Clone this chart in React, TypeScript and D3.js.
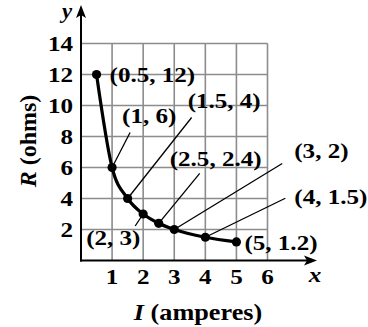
import React from "react";
import * as d3 from "d3";

const currents = [0.5, 1, 1.5, 2, 2.5, 3, 4, 5];
const resistances = [12, 6, 4, 3, 2.4, 2, 1.5, 1.2];
const pointLabels = ["(0.5, 12)", "(1, 6)", "(1.5, 4)", "(2, 3)", "(2.5, 2.4)", "(3, 2)", "(4, 1.5)", "(5, 1.2)"];
const xTicks = [1, 2, 3, 4, 5, 6];
const yTicks = [2, 4, 6, 8, 10, 12, 14];

// label placement (offsets relative to point, in px) and leader line end offsets
const labelPos: { dx: number; dy: number; lx?: number; ly?: number }[] = [
  { dx: 13, dy: 7 },
  { dx: 10, dy: -45, lx: 18, ly: -35 },
  { dx: 60, dy: -91, lx: 64, ly: -81 },
  { dx: -57, dy: 31, lx: -8, ly: 12 },
  { dx: 11, dy: -57, lx: 41, ly: -50 },
  { dx: 120, dy: -72, lx: 108, ly: -66 },
  { dx: 89, dy: -33, lx: 80, ly: -39 },
  { dx: 8, dy: 8 },
];

const W = 368;
const H = 327;
const FONT = "'Liberation Serif', 'Times New Roman', serif";
const SX = 1.14;

function T({ x, y, size, anchor = "start", italic = false, children }: any) {
  return (
    <g transform={`translate(${x},${y}) scale(${SX},1)`}>
      <text
        x={0}
        y={0}
        fontFamily={FONT}
        fontWeight="bold"
        fontStyle={italic ? "italic" : "normal"}
        fontSize={size}
        textAnchor={anchor}
        fill="#000"
      >
        {children}
      </text>
    </g>
  );
}

export default function App() {
  const x = d3.scaleLinear().domain([0, 6]).range([81, 267.5]);
  const y = d3.scaleLinear().domain([0, 14]).range([260.5, 43.5]);
  const pts = currents.map((c, i) => [x(c), y(resistances[i])] as [number, number]);
  const line = d3.line().curve(d3.curveMonotoneX)(pts) || "";
  const x0 = x(0);
  const y0 = y(0);
  return (
    <svg width={W} height={H} style={{ position: "absolute", left: 0, top: 0, background: "#fff" }}>
      <rect width={W} height={H} fill="#fff" />
      {/* grid */}
      {xTicks.map((t) => (
        <line key={"gx" + t} x1={x(t)} x2={x(t)} y1={y(0)} y2={y(14)} stroke="#8c8c8c" strokeWidth={1.6} />
      ))}
      {yTicks.map((t) => (
        <line key={"gy" + t} x1={x(0)} x2={x(6)} y1={y(t)} y2={y(t)} stroke="#8c8c8c" strokeWidth={1.6} />
      ))}
      {/* axes */}
      <line x1={x0} x2={x0} y1={y0 + 1} y2={14} stroke="#000" strokeWidth={2} />
      <path d={`M${x0},5 L${x0 - 5},18 L${x0},15 L${x0 + 5},18 Z`} fill="#000" />
      <line x1={x0 - 1} x2={308} y1={y0} y2={y0} stroke="#000" strokeWidth={2} />
      <path d={`M317,${y0} L304,${y0 - 5} L307,${y0} L304,${y0 + 5} Z`} fill="#000" />
      {/* ticks labels */}
      {yTicks.map((t) => (
        <T key={"yl" + t} x={73} y={y(t) + 7.5} size={22} anchor="end">
          {t}
        </T>
      ))}
      {xTicks.map((t) => (
        <T key={"xl" + t} x={x(t)} y={284} size={22} anchor="middle">
          {t}
        </T>
      ))}
      <T x={67} y={18} size={20} anchor="middle" italic>
        y
      </T>
      <T x={315} y={282} size={22} anchor="middle" italic>
        x
      </T>
      {/* axis titles */}
      <g transform={`translate(${36},${141}) rotate(-90)`}>
        <text x={0} y={0} fontFamily={FONT} fontWeight="bold" fontSize={24} textAnchor="middle">
          <tspan fontStyle="italic">R</tspan> (ohms)
        </text>
      </g>
      <g transform={`translate(${198},${320}) scale(${SX},1)`}>
        <text x={0} y={0} fontFamily={FONT} fontWeight="bold" fontSize={23} textAnchor="middle">
          <tspan fontStyle="italic">I</tspan> (amperes)
        </text>
      </g>
      {/* leader lines */}
      {pts.map((p, i) => {
        const lp = labelPos[i];
        if (lp.lx === undefined) return null;
        return (
          <line key={"ld" + i} x1={p[0]} y1={p[1]} x2={p[0] + lp.lx} y2={p[1] + (lp.ly as number)} stroke="#000" strokeWidth={1.3} />
        );
      })}
      {/* curve */}
      <path d={line} fill="none" stroke="#000" strokeWidth={3.2} />
      {pts.map((p, i) => (
        <circle key={"pt" + i} cx={p[0]} cy={p[1]} r={4.6} fill="#000" />
      ))}
      {/* point labels */}
      {pts.map((p, i) => (
        <T key={"lb" + i} x={p[0] + labelPos[i].dx} y={p[1] + labelPos[i].dy} size={22}>
          {pointLabels[i]}
        </T>
      ))}
    </svg>
  );
}
